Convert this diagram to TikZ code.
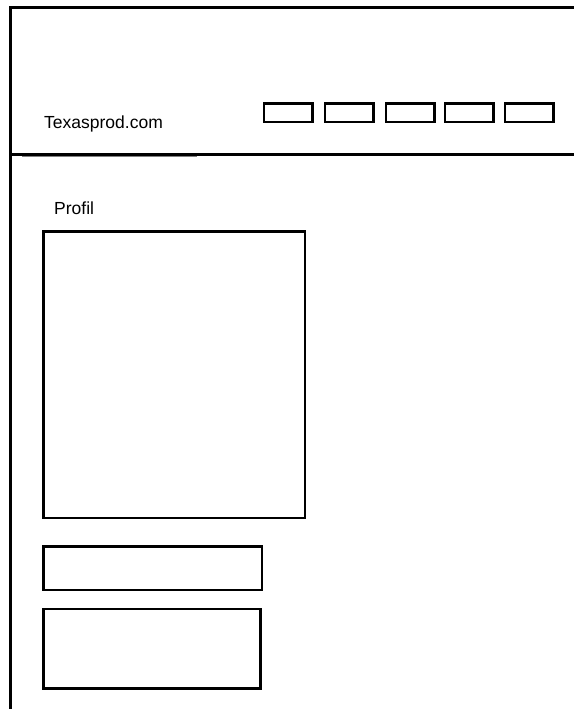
\documentclass[tikz,border=0pt]{standalone}
\usepackage{fontspec}
\setmainfont{Liberation Sans}
\begin{document}
\begin{tikzpicture}[x=1pt,y=-1pt,
  frame/.style={line width=3pt,line cap=rect},
  box/.style={draw,line width=2.8pt},
  navbox/.style={draw,line width=2.8pt},
  lbl/.style={font=\fontsize{17.5}{20}\selectfont,inner sep=0pt,anchor=base west}]
\useasboundingbox[fill=white] (0,0) rectangle (573,709);
% frame
\coordinate (tl) at (10,8);
\coordinate (tr) at (573,8);
\coordinate (bl) at (10,709);
\coordinate (sl) at (10,154);
\coordinate (sr) at (573,154);
\draw[frame] (tr) -- (tl) -- (bl);
\draw[frame] (sl) -- (sr);
\draw[gray,line width=1pt] (22,156) -- (197,156);
% header
\node[lbl] (site) at (44,128) {Texasprod.com};
\foreach \i/\xa in {1/264,2/325,3/386,4/445,5/505}{
  \draw[navbox] (\xa,103.5) rectangle ++(48.5,18.5);
}
% content
\node[lbl] (profil) at (54,214) {Profil};
\draw[box] (43.5,231.5) rectangle (305,518);
\draw[box] (43.5,546.5) rectangle (262,590);
\draw[box] (43.5,609) rectangle (260.5,688.5);
\end{tikzpicture}
\end{document}
